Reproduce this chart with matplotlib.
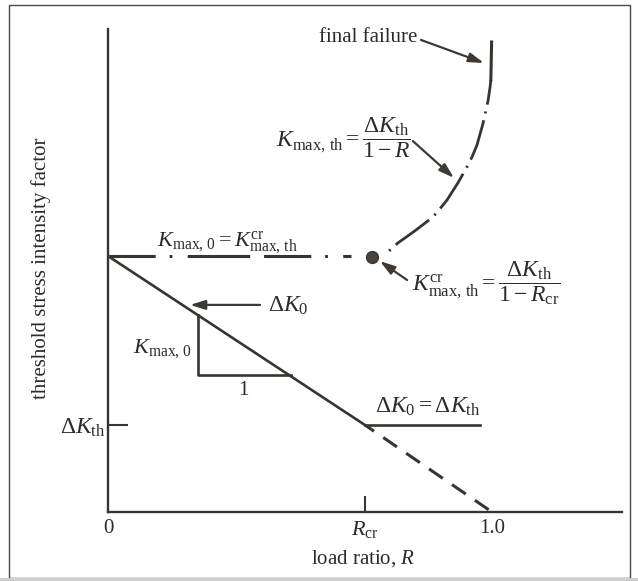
import matplotlib
matplotlib.use("Agg")
import matplotlib.pyplot as plt
from matplotlib.patches import Rectangle

plt.rcParams['font.family'] = ['Liberation Serif', 'DejaVu Serif']
plt.rcParams['mathtext.fontset'] = 'custom'
plt.rcParams['mathtext.rm'] = 'Liberation Serif'
plt.rcParams['mathtext.it'] = 'Liberation Serif:italic'
plt.rcParams['mathtext.bf'] = 'Liberation Serif:bold'
plt.rcParams['lines.scale_dashes'] = False

# --- schematic values (load ratio R, threshold K normalised by K_max,0) ---
R_cr = 0.669
K_max0 = 1.0
dK_th = 0.34
R_end = 1.0
R_plateau_end = 0.969
R_dashdot_end = 0.633
R_dot = 0.6875

# K_max,th curve
curve_R = [0.732, 0.755, 0.799, 0.846, 0.862, 0.883, 0.911, 0.9375, 0.948, 0.961, 0.977, 0.990, 0.995, 0.997]
curve_K = [1.020, 1.051, 1.098, 1.152, 1.180, 1.219, 1.285, 1.355, 1.387, 1.434, 1.520, 1.609, 1.660, 1.6875]
fail_R = [0.997, 0.999]
fail_K = [1.6875, 1.836]

# slope triangle
tri_R = [0.234, 0.234, 0.4766]
tri_K = [0.770, 0.535, 0.535]

ink = '#3a3431'
txt = '#2b2b2b'
fs = 15
fm = 17

fig = plt.figure(figsize=(6.38, 5.81), dpi=100)
fig.patch.set_facecolor('white')
fig.add_artist(Rectangle((9 / 638, 3 / 581), 621 / 638, 573 / 581, transform=fig.transFigure,
                         fill=False, edgecolor='#4a4a4a', lw=1.0))
fig.add_artist(Rectangle((0, 0), 1, 3 / 581, transform=fig.transFigure,
                         facecolor='#cfcfcf', edgecolor='none'))

ax = fig.add_axes([108 / 638, 69 / 581, 514 / 638, 483 / 581])
ax.set_xlim(0, 514 / 384)
ax.set_ylim(0, 483 / 256)
ax.patch.set_alpha(0)
for s in ['top', 'right']:
    ax.spines[s].set_visible(False)
for s in ['left', 'bottom']:
    ax.spines[s].set_color(ink)
    ax.spines[s].set_linewidth(1.7)

# ticks
ax.set_xticks([0, R_end], ['0', '1.0'])
ax.tick_params(axis='x', which='major', length=0, pad=5, labelsize=fs, labelcolor=txt)
ax.set_xticks([R_cr], [r'$R_{\rm cr}$'], minor=True)
ax.tick_params(axis='x', which='minor', direction='in', length=11.5, width=1.5,
               color=ink, pad=5, labelsize=fs + 1, labelcolor=txt)
ax.set_yticks([dK_th], [r'$\Delta K_{\rm th}$'])
ax.tick_params(axis='y', direction='in', length=14.5, width=1.5, color=ink,
               pad=2, labelsize=fm, labelcolor=txt)

ax.set_xlabel('load ratio, $R$', fontsize=fs, color=txt)
ax.xaxis.set_label_coords(0.496, -0.074)
ax.set_ylabel('threshold stress intensity factor', fontsize=fs, color=txt)
ax.yaxis.set_label_coords(-0.11, 0.505)

# threshold lines
ax.plot([0, R_cr], [K_max0, dK_th], color=ink, lw=1.9, solid_capstyle='butt')
ax.plot([R_cr, R_plateau_end], [dK_th, dK_th], color=ink, lw=1.9)
ax.plot([R_cr, R_end], [dK_th, 0], color=ink, lw=2.2, linestyle=(4, (12, 8)))
ax.plot([0, R_dashdot_end], [K_max0, K_max0], color=ink, lw=2.2,
        linestyle=(0, (34, 10, 2, 11, 45, 10)))
ax.plot(curve_R, curve_K, color=ink, lw=2.0, linestyle=(0, (1.5, 5, 30, 5)))
ax.plot(fail_R, fail_K, color=ink, lw=2.2)
ax.plot([R_dot], [K_max0 - 0.004], 'o', ms=8.5, color='#4a4441', mec='#3a3431')
ax.plot(tri_R, tri_K, color=ink, lw=1.9)

# labels
ax.text(0.677, 1.855, 'final failure', fontsize=fs, color=txt, ha='center', va='center')
ax.text(0.613, 1.462, r'$K_{\rm max,\,th} = \dfrac{\Delta K_{\rm th}}{1-R}$', fontsize=fm,
        color=txt, ha='center', va='center')
ax.text(0.31, 1.035, r'$K_{\rm max,\,0} = K^{\rm cr}_{\rm max,\,th}$', fontsize=fm - 1,
        color=txt, ha='center', va='baseline')
ax.text(0.985, 0.895, r'$K^{\rm cr}_{\rm max,\,th} = \dfrac{\Delta K_{\rm th}}{1-R_{\rm cr}}$',
        fontsize=fm, color=txt, ha='center', va='center')
ax.text(0.417, 0.805, r'$\Delta K_0$', fontsize=fm, color=txt, ha='left', va='center')
ax.text(0.143, 0.64, r'$K_{\rm max,\,0}$', fontsize=fm - 1, color=txt, ha='center', va='center')
ax.text(0.352, 0.475, '1', fontsize=fs, color=txt, ha='center', va='center')
ax.text(0.833, 0.41, r'$\Delta K_0 = \Delta K_{\rm th}$', fontsize=fm, color=txt,
        ha='center', va='center')

arrow = dict(arrowstyle='-|>,head_length=0.9,head_width=0.28', color='#3f3936',
             lw=1.6, shrinkA=0, shrinkB=0)
ax.annotate('', xy=(0.979, 1.754), xytext=(0.815, 1.844), arrowprops=arrow)
ax.annotate('', xy=(0.901, 1.305), xytext=(0.794, 1.449), arrowprops=arrow)
ax.annotate('', xy=(0.708, 0.980), xytext=(0.779, 0.906), arrowprops=arrow)
ax.annotate('', xy=(0.2135, 0.809), xytext=(0.396, 0.809), arrowprops=arrow)

fig.savefig('out.png', dpi=100)
